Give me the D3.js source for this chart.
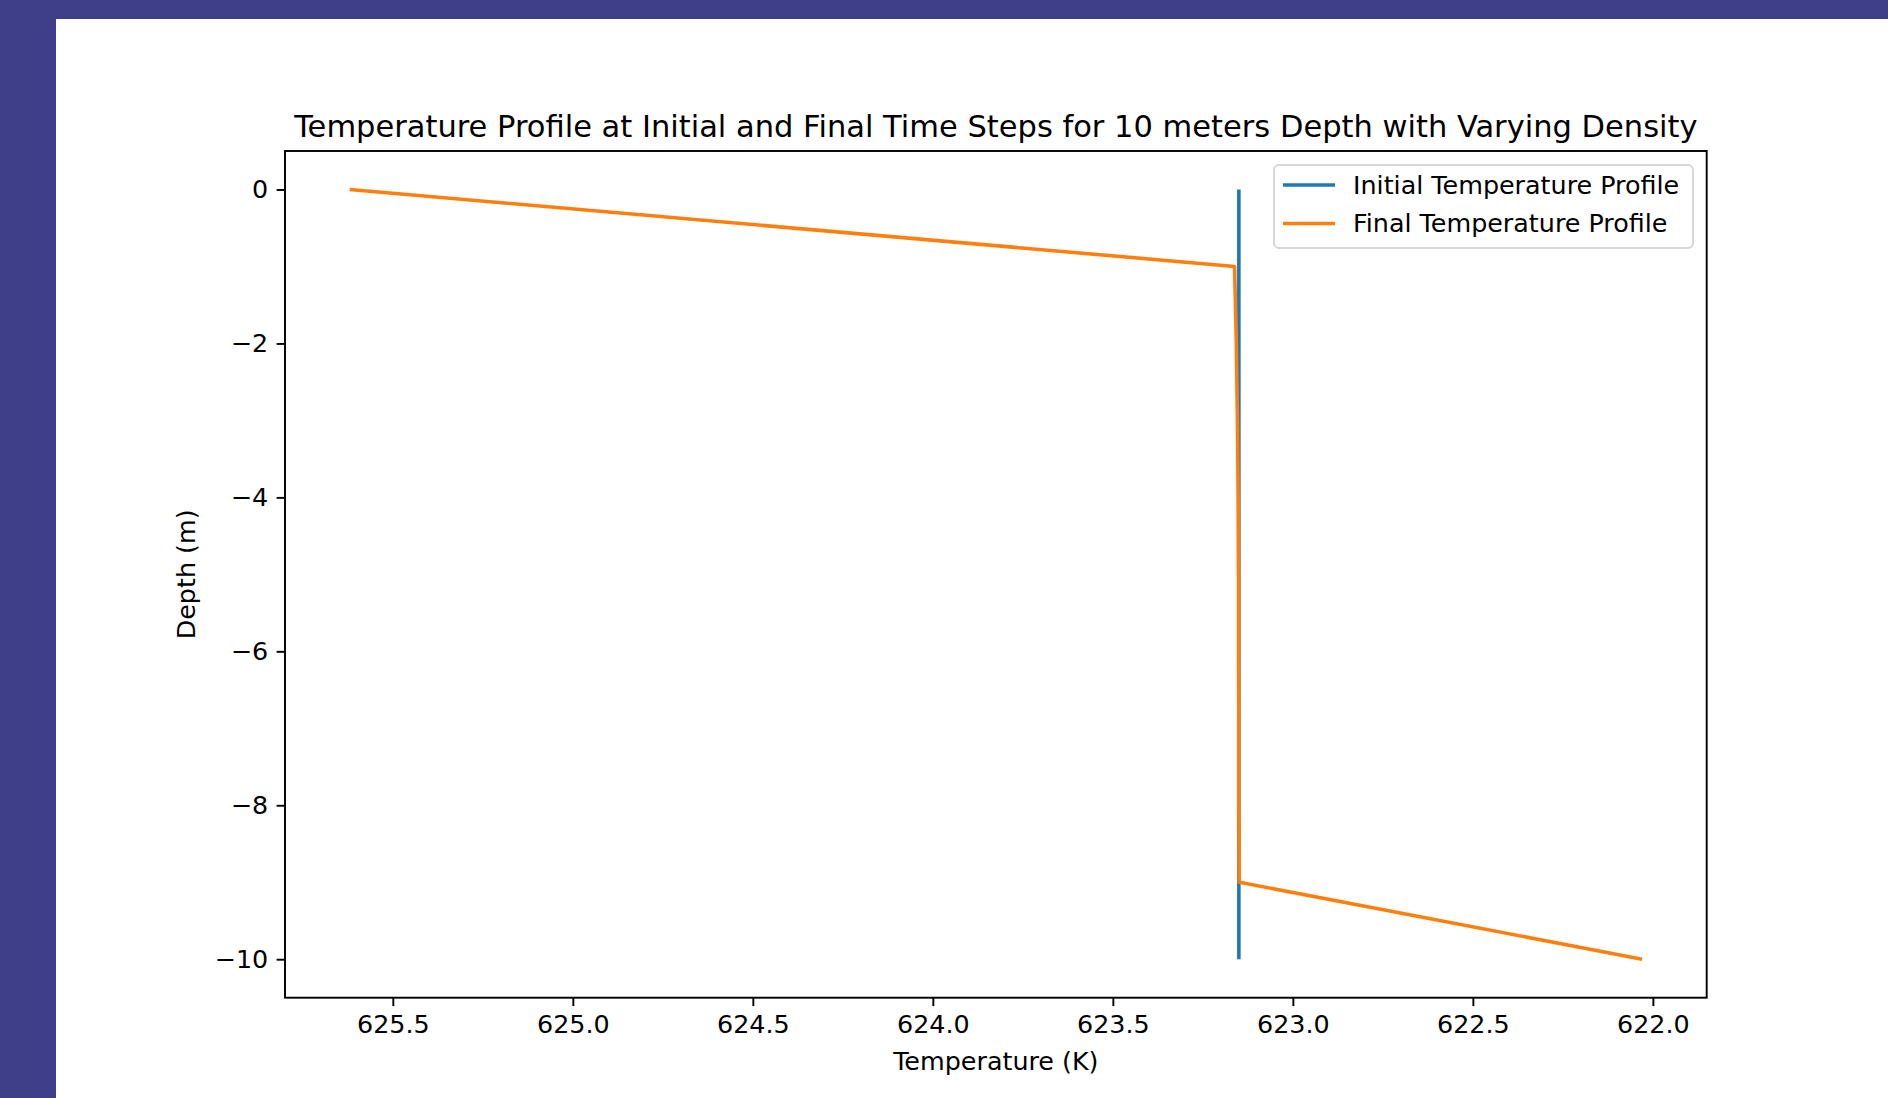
<!DOCTYPE html>
<html>
<head>
<meta charset="utf-8">
<script src="https://cdn.jsdelivr.net/npm/d3@7"></script>
<style>
  html, body { margin: 0; padding: 0; background: #3f3e88; }
  svg { display: block; }
  text { font-family: "DejaVu Sans", sans-serif; fill: #000; }
</style>
</head>
<body>
<div id="chart"></div>
<script>
// depth grid (m) and the two temperature profiles (K)
const depths = [0, -1, -2, -3, -4, -5, -6, -7, -8, -9, -10];
const initialTemps = [623.15, 623.15, 623.15, 623.15, 623.15, 623.15, 623.15, 623.15, 623.15, 623.15, 623.15];
const finalTemps = [625.62, 623.162, 623.157, 623.154, 623.152, 623.151, 623.151, 623.150, 623.150, 623.149, 622.03];

const xTicks = [625.5, 625.0, 624.5, 624.0, 623.5, 623.0, 622.5, 622.0];
const yTicks = [0, -2, -4, -6, -8, -10];

const seriesNames = ["Initial Temperature Profile", "Final Temperature Profile"];
const seriesColors = ["#1f77b4", "#ff7f0e"];

const W = 1888, H = 1098;
const pt = 2.4;          // px per point in the reference
const fontPx = 25.4;     // 10pt text as rendered in the reference
const titlePx = 30.5;    // 12pt title

const svg = d3.select("#chart").append("svg")
    .attr("width", W)
    .attr("height", H);

// white figure panel over the dark backdrop
svg.append("rect")
    .attr("x", 56).attr("y", 19)
    .attr("width", W - 56).attr("height", H - 19)
    .attr("fill", "#ffffff");

const plot = { left: 285, top: 151, right: 1706.7, bottom: 997.7 };

// matplotlib-like 5% margins
const allT = initialTemps.concat(finalTemps);
const tMin = d3.min(allT), tMax = d3.max(allT);
const tPad = (tMax - tMin) * 0.05;
const dMin = d3.min(depths), dMax = d3.max(depths);
const dPad = (dMax - dMin) * 0.05;

// x axis is inverted: hot on the left
const x = d3.scaleLinear()
    .domain([tMax + tPad, tMin - tPad])
    .range([plot.left, plot.right]);

const y = d3.scaleLinear()
    .domain([dMin - dPad, dMax + dPad])
    .range([plot.bottom, plot.top]);

const line = d3.line()
    .x(d => x(d[0]))
    .y(d => y(d[1]));

const g = svg.append("g");

[initialTemps, finalTemps].forEach((temps, i) => {
    g.append("path")
        .datum(temps.map((t, j) => [t, depths[j]]))
        .attr("fill", "none")
        .attr("stroke", seriesColors[i])
        .attr("stroke-width", 1.5 * pt)
        .attr("stroke-linecap", "butt")
        .attr("stroke-linejoin", "round")
        .attr("d", line);
});

// axes
const xAxis = svg.append("g")
    .attr("transform", `translate(0,${plot.bottom})`)
    .call(d3.axisBottom(x)
        .tickValues(xTicks)
        .tickFormat(d3.format(".1f"))
        .tickSize(3.5 * pt)
        .tickPadding(3.5 * pt));

const yAxis = svg.append("g")
    .attr("transform", `translate(${plot.left},0)`)
    .call(d3.axisLeft(y)
        .tickValues(yTicks)
        .tickFormat(d3.format("d"))
        .tickSize(3.5 * pt)
        .tickPadding(3.5 * pt));

[xAxis, yAxis].forEach(ax => {
    ax.select(".domain").remove();
    ax.selectAll(".tick line")
        .attr("stroke", "#000")
        .attr("stroke-width", 0.8 * pt);
    ax.selectAll(".tick text")
        .attr("font-size", fontPx)
        .attr("font-family", "DejaVu Sans, sans-serif")
        .attr("fill", "#000");
});

// frame
svg.append("rect")
    .attr("x", plot.left).attr("y", plot.top)
    .attr("width", plot.right - plot.left)
    .attr("height", plot.bottom - plot.top)
    .attr("fill", "none")
    .attr("stroke", "#000")
    .attr("stroke-width", 0.8 * pt);

// title + labels
svg.append("text")
    .attr("x", (plot.left + plot.right) / 2)
    .attr("y", plot.top - 6 * pt)
    .attr("text-anchor", "middle")
    .attr("font-size", titlePx)
    .text("Temperature Profile at Initial and Final Time Steps for 10 meters Depth with Varying Density");

svg.append("text")
    .attr("x", (plot.left + plot.right) / 2)
    .attr("y", 1070)
    .attr("text-anchor", "middle")
    .attr("font-size", fontPx)
    .text("Temperature (K)");

svg.append("text")
    .attr("transform", `translate(195,${(plot.top + plot.bottom) / 2}) rotate(-90)`)
    .attr("text-anchor", "middle")
    .attr("font-size", fontPx)
    .text("Depth (m)");

// legend
const legend = svg.append("g");
legend.append("rect")
    .attr("x", 1274).attr("y", 165)
    .attr("width", 419).attr("height", 83)
    .attr("rx", 5).attr("ry", 5)
    .attr("fill", "#ffffff")
    .attr("fill-opacity", 0.8)
    .attr("stroke", "#d6d6d6")
    .attr("stroke-width", 0.8 * pt);

seriesNames.forEach((name, i) => {
    const cy = 185 + i * 38.5;
    legend.append("line")
        .attr("x1", 1283).attr("x2", 1335)
        .attr("y1", cy).attr("y2", cy)
        .attr("stroke", seriesColors[i])
        .attr("stroke-width", 1.5 * pt);
    legend.append("text")
        .attr("x", 1353)
        .attr("y", cy)
        .attr("dy", "0.35em")
        .attr("font-size", fontPx)
        .text(name);
});
</script>
</body>
</html>
